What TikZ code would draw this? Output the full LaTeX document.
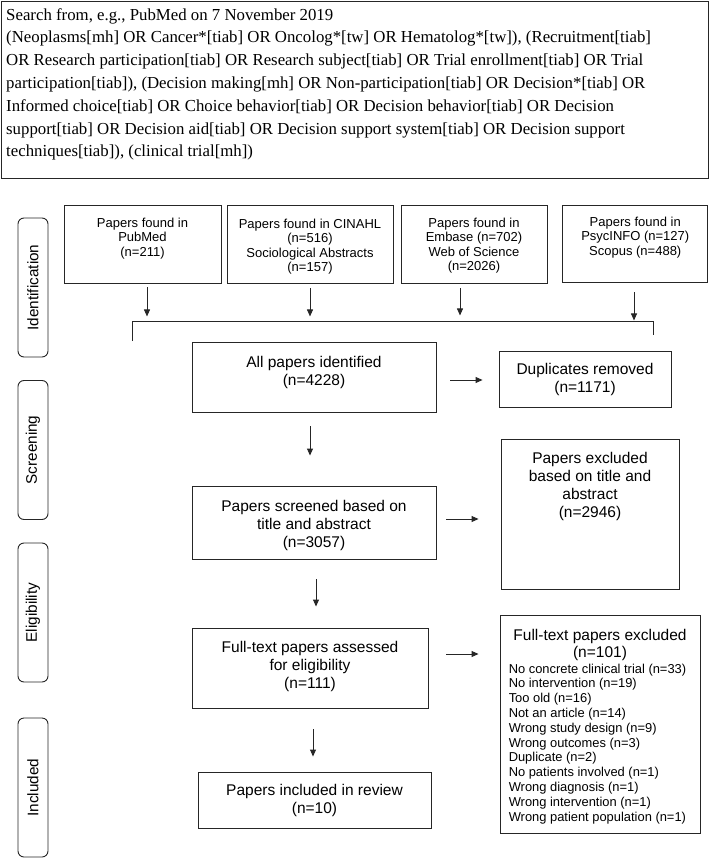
\documentclass[tikz,border=0pt]{standalone}
\usepackage{fontspec}
\setmainfont{Liberation Sans}
\newfontfamily\queryfont{Liberation Serif}
\usetikzlibrary{arrows.meta}

\tikzset{
    box/.style={draw=black!85, line width=0.9pt, inner sep=0pt},
    toptext/.style={anchor=north, inner sep=0pt, align=center},
    srcfont/.style={font=\fontsize{13}{14.6}\selectfont},
    flowfont/.style={font=\fontsize{15.5}{18}\selectfont},
    stage/.style={draw=black!85, line width=0.9pt, rounded corners=6pt, rotate=90,
        minimum width=139, minimum height=30, inner sep=0pt, font=\fontsize{15.3}{18}\selectfont},
    arr/.style={draw=black!85, line width=0.9pt, -{Triangle[length=7pt,width=6pt]}},
}

\begin{document}
\begin{tikzpicture}[x=1pt, y=-1pt]
    \useasboundingbox (0,0) rectangle (709,858);
    % search string
    \node[box, anchor=north west, minimum width=706.5, minimum height=177] (searchbox) at (1,1) {};
    \node[anchor=north west, inner sep=0pt, align=left, font=\queryfont\fontsize{16.8}{22.8}\selectfont] (query) at (6,8)
        {Search from, e.g., PubMed on 7 November 2019\\
        (Neoplasms[mh] OR Cancer*[tiab] OR Oncolog*[tw] OR Hematolog*[tw]), (Recruitment[tiab]\\
        OR Research participation[tiab] OR Research subject[tiab] OR Trial enrollment[tiab] OR Trial\\
        participation[tiab]), (Decision making[mh] OR Non-participation[tiab] OR Decision*[tiab] OR\\
        Informed choice[tiab] OR Choice behavior[tiab] OR Decision behavior[tiab] OR Decision\\
        support[tiab] OR Decision aid[tiab] OR Decision support system[tiab] OR Decision support\\
        techniques[tiab]), (clinical trial[mh])};

    % stages
    \node[stage] (identification) at (33,287.5) {Identification};
    \node[stage] (screening) at (33,450) {Screening};
    \node[stage] (eligibility) at (33,612.5) {Eligibility};
    \node[stage] (inclusion) at (33,787.5) {Included};

    % databases
    \node[box, minimum width=157, minimum height=78,
        label={[toptext, srcfont, yshift=-13]north:{Papers found in\\PubMed\\(n=211)}}] (pubmed) at (142.5,244) {};
    \node[box, minimum width=166, minimum height=78,
        label={[toptext, srcfont, yshift=-14]north:{Papers found in CINAHL\\(n=516)\\Sociological Abstracts\\(n=157)}}] (cinahl) at (310,244) {};
    \node[box, minimum width=146, minimum height=78,
        label={[toptext, srcfont, yshift=-13]north:{Papers found in\\Embase (n=702)\\Web of Science\\(n=2026)}}] (embase) at (474,244) {};
    \node[box, minimum width=145, minimum height=77,
        label={[toptext, srcfont, yshift=-12]north:{Papers found in\\PsycINFO (n=127)\\Scopus (n=488)}}] (psycinfo) at (635.25,243.5) {};

    \coordinate (mergeL) at (132,321.5);
    \coordinate (mergeR) at (653,321.5);
    \draw[draw=black!85, line width=0.9pt] ([shift={(0,19.5)}]mergeL) -- (mergeL) -- (mergeR) -- ++(0,13.5);
    \draw[arr] ([shift={(4.5,4)}]pubmed.south) -- ++(0,29);
    \draw[arr] ([shift={(0,5)}]cinahl.south) -- ++(0,28);
    \draw[arr] ([shift={(-14,5)}]embase.south) -- ++(0,27);
    \draw[arr] ([shift={(-1.25,10)}]psycinfo.south) -- ++(0,28);

    % flow
    \node[box, minimum width=244, minimum height=70,
        label={[toptext, flowfont, yshift=-14.3]north:{All papers identified\\(n=4228)}}] (allpapers) at (314,377) {};
    \node[box, minimum width=172, minimum height=56, flowfont, align=center] (duplicates) at (585,379)
        {Duplicates removed\\(n=1171)};
    \node[box, minimum width=244, minimum height=73,
        label={[toptext, flowfont, yshift=-14.3]north:{Papers screened based on\\title and abstract\\(n=3057)}}] (screened) at (314,522.5) {};
    \node[box, minimum width=178, minimum height=150,
        label={[toptext, flowfont, yshift=-13.3]north:{Papers excluded\\based on title and\\abstract\\(n=2946)}}] (exclabstract) at (590,514) {};
    \node[box, minimum width=236, minimum height=80,
        label={[toptext, flowfont, yshift=-13.3]north:{Full-text papers assessed\\for eligibility\\(n=111)}}] (fulltext) at (310,668) {};
    \node[box, minimum width=200, minimum height=218,
        label={[toptext, font=\fontsize{15.5}{17}\selectfont, yshift=-14.3]north:{Full-text papers excluded\\(n=101)}},
        label={[anchor=north west, inner sep=0pt, align=left, font=\fontsize{12.9}{14.8}\selectfont,
            xshift=9, yshift=-49]north west:{No concrete clinical trial (n=33)\\No intervention (n=19)\\Too old (n=16)\\
            Not an article (n=14)\\Wrong study design (n=9)\\Wrong outcomes (n=3)\\Duplicate (n=2)\\
            No patients involved (n=1)\\Wrong diagnosis (n=1)\\Wrong intervention (n=1)\\Wrong patient population (n=1)}}] (exclfulltext) at (600,724) {};
    \node[box, minimum width=233, minimum height=56, flowfont, align=center] (included) at (314.5,800)
        {Papers included in review\\(n=10)};

    \draw[arr] ([shift={(14,3)}]allpapers.east) -- ([shift={(-16,1)}]duplicates.west);
    \draw[arr] ([shift={(-4,14)}]allpapers.south) -- ([shift={(-4,-30)}]screened.north);
    \draw[arr] ([shift={(10,-3.5)}]screened.east) -- ([shift={(-22,5)}]exclabstract.west);
    \draw[arr] ([shift={(2,20)}]screened.south) -- ([shift={(6,-21)}]fulltext.north);
    \draw[arr] ([shift={(18,-14)}]fulltext.east) -- ([shift={(-21,-70)}]exclfulltext.west);
    \draw[arr] ([shift={(3,21)}]fulltext.south) -- ([shift={(-1.5,-15)}]included.north);
\end{tikzpicture}
\end{document}
